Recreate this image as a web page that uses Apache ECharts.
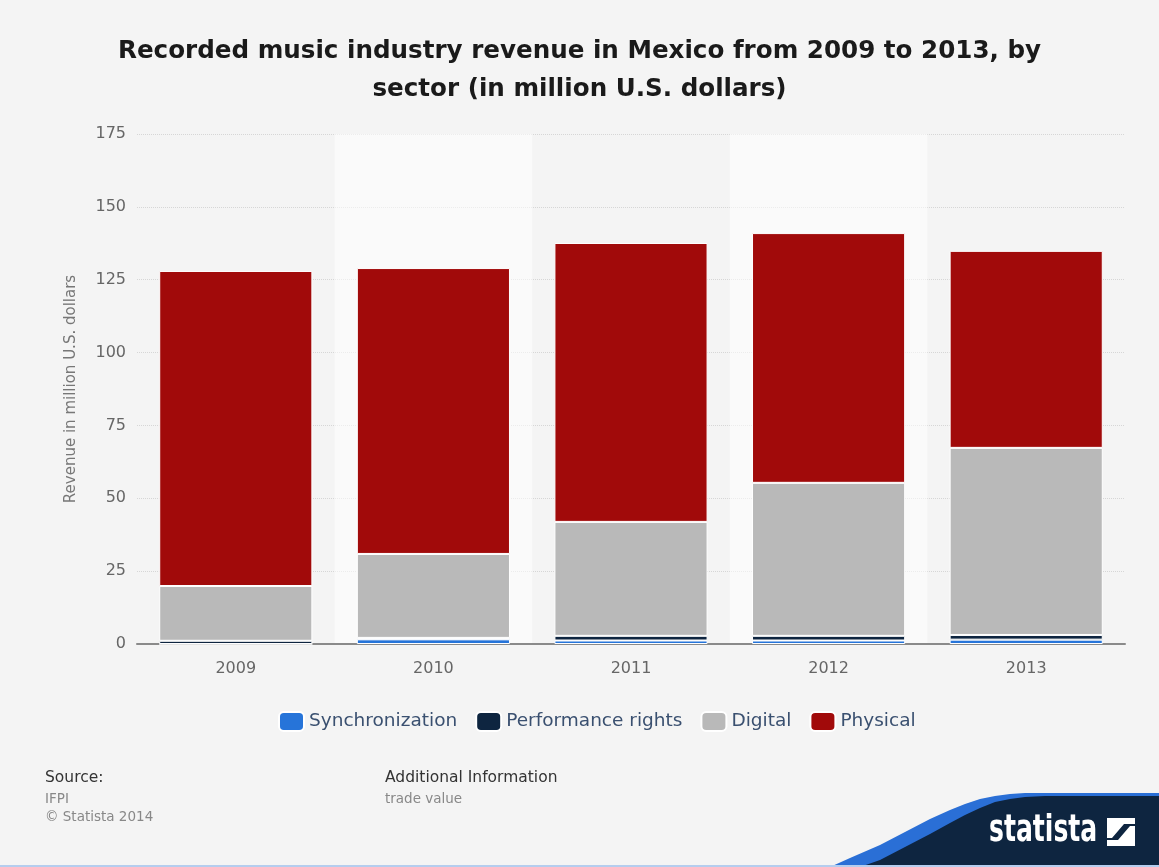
<!DOCTYPE html>
<html>
<head>
<meta charset="utf-8">
<script src="https://cdn.jsdelivr.net/npm/echarts@6/dist/echarts.min.js"></script>
<style>
  html, body { margin: 0; padding: 0; background: #f4f4f4; }
  #main { width: 1159px; height: 867px; }
</style>
</head>
<body>
<div id="main"></div>
<script>
var years = ['2009', '2010', '2011', '2012', '2013'];
var synchronization = [0, 1.6, 1.2, 1.2, 1.5];
var performanceRights = [1.1, 0.5, 1.6, 1.6, 1.6];
var digital = [18.8, 28.8, 39.1, 52.5, 64.2];
var physical = [108.1, 98.1, 95.7, 85.7, 67.6];

var chartDom = document.getElementById('main');
var myChart = echarts.init(chartDom);
var option;

const segStyle = function (color) {
    return { color: color, borderColor: '#ffffff', borderWidth: 1 };
};

// logo swoosh outlines (decoration only)
const blueWave = [[830, 867], [850, 858], [880, 845], [905, 832], [930, 819], [950, 810], [965, 804], [980, 799], [995, 796], [1010, 794], [1025, 793], [1159, 793], [1159, 867]];
const navyWave = [[860, 867], [880, 860], [905, 847], [930, 834], [950, 823], [965, 815], [980, 808], [995, 802], [1010, 799], [1025, 797], [1045, 796], [1159, 796], [1159, 867]];

option = {
    backgroundColor: '#f4f4f4',
    textStyle: { fontFamily: 'DejaVu Sans' },
    title: {
        text: 'Recorded music industry revenue in Mexico from 2009 to 2013, by\nsector (in million U.S. dollars)',
        left: 'center',
        top: 28,
        padding: [5, 0, 5, 22],
        textStyle: {
            fontSize: 24.6,
            fontWeight: 'bold',
            color: '#1a1a1a',
            lineHeight: 38,
            fontFamily: 'DejaVu Sans'
        }
    },
    grid: {
        left: 137,
        right: 34,
        top: 134,
        bottom: 223
    },
    legend: {
        bottom: 130,
        left: 273,
        itemWidth: 25,
        itemHeight: 19,
        itemGap: 18,
        icon: 'roundRect',
        textStyle: { fontSize: 18.5, color: '#3a5070', fontFamily: 'DejaVu Sans' },
        data: ['Synchronization', 'Performance rights', 'Digital', 'Physical']
    },
    xAxis: {
        type: 'category',
        data: years,
        axisLine: { lineStyle: { color: '#8a8a8a', width: 2 } },
        axisTick: { show: false },
        axisLabel: { color: '#666', fontSize: 16, margin: 17 },
        splitArea: {
            show: true,
            areaStyle: { color: ['rgba(0,0,0,0)', 'rgba(255,255,255,0.55)'] }
        }
    },
    yAxis: {
        type: 'value',
        min: 0,
        max: 175,
        interval: 25,
        name: 'Revenue in million U.S. dollars',
        nameLocation: 'middle',
        nameGap: 58,
        nameTextStyle: { color: '#777', fontSize: 15 },
        axisLine: { show: false },
        axisTick: { show: false },
        axisLabel: { color: '#666', fontSize: 16, margin: 11 },
        splitLine: { lineStyle: { color: '#d6d6d6', type: 'dotted', width: 1 } }
    },
    series: [
        {
            name: 'Synchronization',
            type: 'bar',
            stack: 'Total',
            barWidth: '77.5%',
            itemStyle: segStyle('#2674d9'),
            data: synchronization
        },
        {
            name: 'Performance rights',
            type: 'bar',
            stack: 'Total',
            itemStyle: segStyle('#0e2540'),
            data: performanceRights
        },
        {
            name: 'Digital',
            type: 'bar',
            stack: 'Total',
            itemStyle: segStyle('#b9b9b9'),
            data: digital
        },
        {
            name: 'Physical',
            type: 'bar',
            stack: 'Total',
            itemStyle: segStyle('#a10a0a'),
            data: physical
        }
    ],
    graphic: [
        { type: 'text', left: 45, top: 770, style: { text: 'Source:', fontSize: 15.5, fill: '#333', fontFamily: 'DejaVu Sans' } },
        { type: 'text', left: 45, top: 792, style: { text: 'IFPI', fontSize: 13.5, fill: '#888', fontFamily: 'DejaVu Sans' } },
        { type: 'text', left: 45, top: 810, style: { text: '\u00a9 Statista 2014', fontSize: 13.5, fill: '#888', fontFamily: 'DejaVu Sans' } },
        { type: 'text', left: 385, top: 770, style: { text: 'Additional Information', fontSize: 15.5, fill: '#333', fontFamily: 'DejaVu Sans' } },
        { type: 'text', left: 385, top: 792, style: { text: 'trade value', fontSize: 13.5, fill: '#888', fontFamily: 'DejaVu Sans' } },
        { type: 'polygon', shape: { points: blueWave }, style: { fill: '#2a6fd6' } },
        { type: 'polygon', shape: { points: navyWave }, style: { fill: '#0e2540' } },
        {
            type: 'text', x: 989, y: 812, scaleX: 0.66,
            style: { text: 'statista', fontSize: 38, fontWeight: 'bold', fill: '#ffffff', fontFamily: 'DejaVu Sans', verticalAlign: 'top' }
        },
        { type: 'polygon', shape: { points: [[1107, 818], [1135, 818], [1135, 824], [1124, 824], [1112, 838], [1107, 838]] }, style: { fill: '#ffffff' } },
        { type: 'polygon', shape: { points: [[1135, 846], [1107, 846], [1107, 840], [1118, 840], [1130, 826], [1135, 826]] }, style: { fill: '#ffffff' } },
        { type: 'rect', shape: { x: 0, y: 865, width: 1159, height: 2 }, style: { fill: '#b5cdee' } }
    ]
};

option && myChart.setOption(option);
</script>
</body>
</html>
